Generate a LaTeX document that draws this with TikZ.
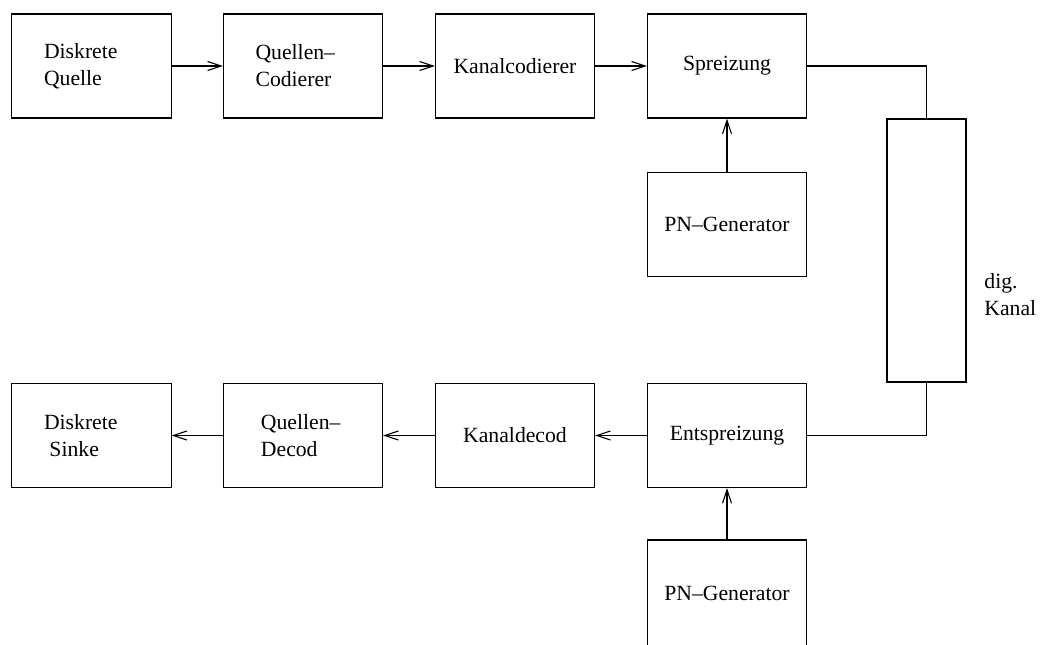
\documentclass[tikz,border=0pt]{standalone}
\usepackage{fontspec}
\setmainfont{Liberation Serif}
\usetikzlibrary{arrows.meta,positioning}

\begin{document}
\begin{tikzpicture}
[x=0.553pt,y=-0.553pt,
block/.style={draw,line width=0.6pt,minimum width=88pt,minimum height=57.5pt,
	inner sep=0pt,font=\fontsize{12}{15}\selectfont},
twoline/.style={block,text width=52.5pt,align=left},
channel/.style={draw,line width=0.6pt,minimum width=43.7pt,minimum height=145.4pt},
flow/.style={line width=0.6pt,-{Straight Barb[length=7.5pt,width=5pt]}},
wire/.style={line width=0.6pt}]

\useasboundingbox (0,0) rectangle (1047,644);

% sender
\node[twoline] (quelle) at (91.5,66) {Diskrete\\Quelle};
\node[twoline] (qcod) at (303,66) {Quellen--\\Codierer};
\node[block] (kcod) at (515,66) {Kanalcodierer};
\node[block] (spreiz) at (727,66) {Spreizung};
\node[block] (pnoben) at (727,224.5) {PN--Generator};

% kanal
\node[channel] (kanal) at (926.5,250.5) {};
\node[anchor=west,align=left,font=\fontsize{12}{15}\selectfont] (kanaltext) at (978,295) {dig.\\Kanal};

% empfaenger
\node[block] (entspreiz) at (727,435.5) {Entspreizung};
\node[block] (kdec) at (515,435.5) {Kanaldecod};
\node[twoline] (qdec) at (303,435.5) {\hspace*{3pt}Quellen--\\\hspace*{3pt}Decod};
\node[twoline] (senke) at (91.5,435.5) {Diskrete\\\hspace*{3pt}Sinke};
\node[block,minimum height=59.2pt] (pnunten) at (727,593.5) {PN--Generator};

\draw[flow] (quelle) -- (qcod);
\draw[flow] (qcod) -- (kcod);
\draw[flow] (kcod) -- (spreiz);
\draw[flow] (pnoben) -- (spreiz);
\draw[wire] (spreiz.east) -| (kanal.north);
\draw[wire] (kanal.south) |- (entspreiz.east);
\draw[flow] (pnunten) -- (entspreiz);
\draw[flow] (entspreiz) -- (kdec);
\draw[flow] (kdec) -- (qdec);
\draw[flow] (qdec) -- (senke);

\end{tikzpicture}
\end{document}
